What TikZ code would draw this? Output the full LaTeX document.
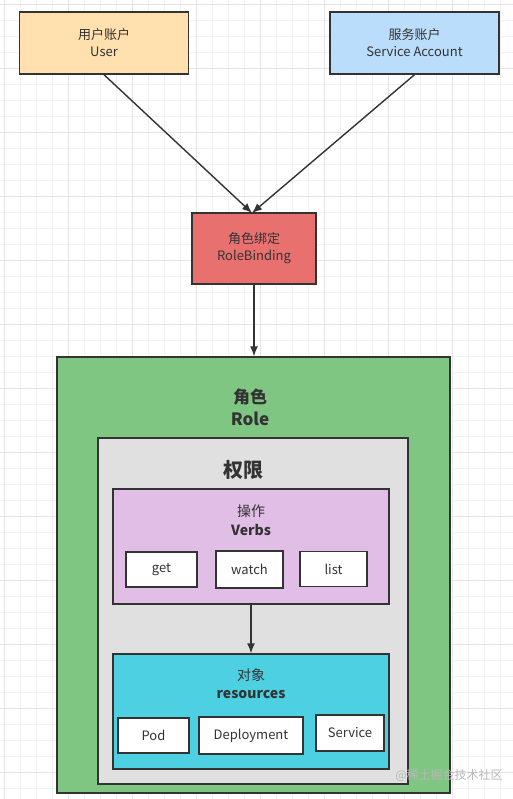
\documentclass[tikz,border=0pt]{standalone}
\usepackage{fontspec}
\setmainfont{Noto Sans CJK SC}
\usetikzlibrary{arrows.meta}
\definecolor{edge}{HTML}{333333}
\definecolor{userfill}{HTML}{FFE0AE}
\definecolor{safill}{HTML}{BADDFB}
\definecolor{rbfill}{HTML}{E8716F}
\definecolor{rolefill}{HTML}{80C683}
\definecolor{permfill}{HTML}{E0E0E0}
\definecolor{verbfill}{HTML}{E1BEE6}
\definecolor{resfill}{HTML}{4DD0E1}
\definecolor{txt}{HTML}{333333}
\newcommand{\lowtext}[1]{\raisebox{-2pt}{#1}}
\tikzset{
  box/.style={draw=edge, line width=1.4pt, rectangle, inner sep=0pt, align=center, text=txt, font=\fontsize{13}{17}\selectfont},
  item/.style={box, fill=white, line width=1.3pt},
  title/.style={text=txt, align=center, inner sep=0pt},
  conn/.style={draw=edge, line width=1.4pt, -{Latex[length=10pt,width=8pt]}},
}
\begin{document}
\begin{tikzpicture}[x=1pt,y=-1pt]
\useasboundingbox (0,0) rectangle (513,799);
\fill[white] (0,0) rectangle (513,799);
\draw[black!6, line width=0.6pt, step=16pt, shift={(4,4)}] (-4,-4) grid (513,799);
\draw[black!10, line width=0.6pt, step=64pt, shift={(4,4)}] (-4,-4) grid (513,799);

% top accounts
\node[box, fill=userfill, minimum width=169pt, minimum height=62pt] (user) at (104,43) {用户账户\\User};
\node[box, fill=safill, minimum width=169pt, minimum height=62pt] (sa) at (414.5,43) {服务账户\\Service Account};
\node[box, fill=rbfill, minimum width=124pt, minimum height=71pt] (rb) at (254,248.5) {角色绑定\\RoleBinding};
\coordinate (rbin) at (252,213);

% role container
\node[box, fill=rolefill, minimum width=393pt, minimum height=436pt] (role) at (253.5,575) {};
\node[title, font=\bfseries\fontsize{17}{22}\selectfont] (roletitle) at (250,407) {角色\\Role};

\node[box, fill=permfill, minimum width=310pt, minimum height=346pt] (perm) at (253,611) {};
\node[title, font=\bfseries\fontsize{20}{24}\selectfont] (permtitle) at (243,470) {权限};

% verbs
\node[box, fill=verbfill, minimum width=276pt, minimum height=115pt] (verbs) at (251,546.5) {};
\node[title, font=\fontsize{14}{19}\selectfont] (verbt1) at (251,511) {操作};
\node[title, font=\bfseries\fontsize{14}{19}\selectfont] (verbt2) at (251,530) {Verbs};
\node[item, minimum width=71pt, minimum height=35pt] (get) at (161.5,569.5) {\lowtext{get}};
\node[item, minimum width=67pt, minimum height=37pt] (watch) at (249.5,569.5) {\lowtext{watch}};
\node[item, minimum width=67pt, minimum height=35pt] (list) at (333.5,569) {\lowtext{list}};

% resources
\node[box, fill=resfill, minimum width=276pt, minimum height=115pt] (res) at (251,711.5) {};
\node[title, font=\fontsize{14}{19}\selectfont] (rest1) at (251,675) {对象};
\node[title, font=\bfseries\fontsize{14}{19}\selectfont] (rest2) at (251,695) {resources};
\node[item, minimum width=71pt, minimum height=35pt] (pod) at (153.5,735.5) {\lowtext{Pod}};
\node[item, minimum width=104pt, minimum height=37pt] (dep) at (251,735.5) {\lowtext{Deployment}};
\node[item, minimum width=68pt, minimum height=36pt] (svc) at (350,733) {\lowtext{Service}};

% connectors
\draw[conn] (user.south) -- (rbin);
\draw[conn] (sa.south) -- (rbin);
\draw[conn] (rb.south) -- (rb.south |- role.north);
\draw[conn] (verbs.south) -- (res.north);

% watermark
\node[text=black!28, font=\fontsize{12}{14}\selectfont, inner sep=0pt] (wm) at (449,775) {@稀土掘金技术社区};
\end{tikzpicture}
\end{document}
